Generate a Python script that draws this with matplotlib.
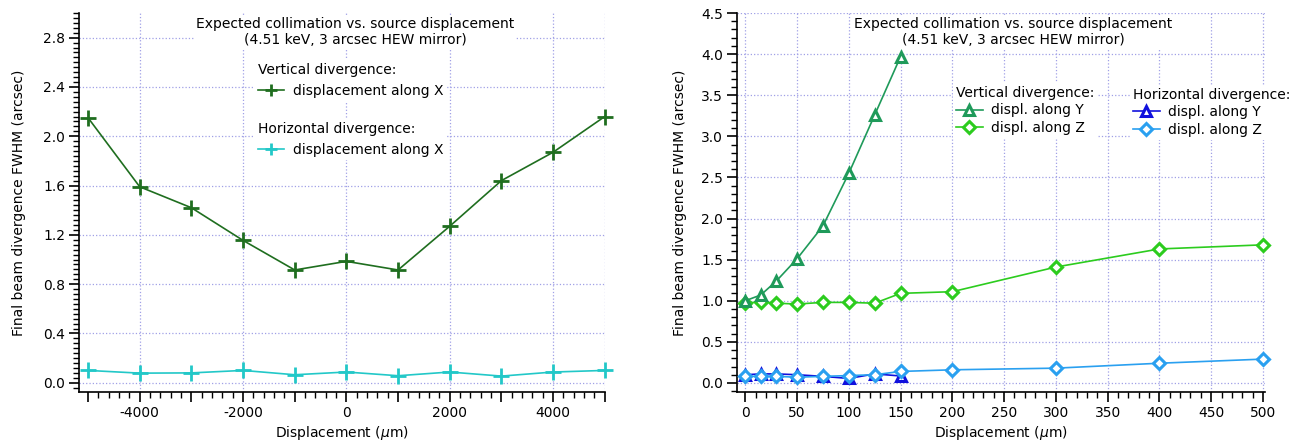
import numpy as np
import matplotlib
matplotlib.use('Agg')
import matplotlib.pyplot as plt
from matplotlib.ticker import MultipleLocator, FuncFormatter
from matplotlib.lines import Line2D

plt.rcParams['font.family'] = ['DejaVu Sans']
plt.rcParams['axes.unicode_minus'] = False

# left panel: displacement along X
xdispl = [-5000, -4000, -3000, -2000, -1000, 0, 1000, 2000, 3000, 4000, 5000]
vert_x = [2.15, 1.59, 1.42, 1.155, 0.915, 0.985, 0.915, 1.27, 1.64, 1.87, 2.16]
horiz_x = [0.10, 0.078, 0.08, 0.10, 0.065, 0.087, 0.057, 0.087, 0.054, 0.087, 0.10]

# right panel: displacement along Y and Z
ydispl = [0, 15, 30, 50, 75, 100, 125, 150]
zdispl = [0, 15, 30, 50, 75, 100, 125, 150, 200, 300, 400, 500]
vert_y = [1.0, 1.07, 1.24, 1.51, 1.91, 2.55, 3.26, 3.97]
vert_z = [0.97, 0.99, 0.97, 0.96, 0.98, 0.98, 0.97, 1.09, 1.11, 1.41, 1.63, 1.68]
horiz_y = [0.10, 0.11, 0.11, 0.10, 0.08, 0.055, 0.11, 0.085]
horiz_z = [0.08, 0.08, 0.08, 0.07, 0.08, 0.09, 0.10, 0.14, 0.16, 0.18, 0.24, 0.29]

title = 'Expected collimation vs. source displacement\n(4.51 keV, 3 arcsec HEW mirror)'
gridcol = '#a0a0e6'
c_dkgreen = '#1f6e1f'
c_cyan = '#22c8c8'
c_teal = '#1f9a5a'
c_green = '#2ccc1e'
c_blue = '#1010dd'
c_ltblue = '#2aa0f0'

fig = plt.figure(figsize=(12.9, 4.45), dpi=100)
ax1 = fig.add_axes([79/1290, 1-392/445, 526/1290, 379/445])
ax2 = fig.add_axes([737/1290, 1-392/445, 528/1290, 379/445])


def style(ax):
    for s in ['top', 'right']:
        ax.spines[s].set_visible(False)
    for s in ['left', 'bottom']:
        ax.spines[s].set_linewidth(1.2)
    ax.tick_params(which='major', direction='out', length=7, width=1.2, labelsize=10, pad=3)
    ax.tick_params(which='minor', direction='out', length=4, width=1.0)
    ax.set_xlabel('Displacement ($\\mu$m)', fontsize=10, labelpad=3)
    ax.set_ylabel('Final beam divergence FWHM (arcsec)', fontsize=10)


# ---- left panel
style(ax1)
ax1.set_xlim(-5175, 5005)
ax1.set_ylim(-0.075, 3.0)
for gx in [-4000, -2000, 0, 2000, 4000, 5000]:
    ax1.axvline(gx, color=gridcol, ls=':', lw=0.9, zorder=0)
for gy in np.arange(0, 2.81, 0.4):
    ax1.axhline(gy, color=gridcol, ls=':', lw=0.9, zorder=0)
ax1.xaxis.set_major_locator(MultipleLocator(1000))
ax1.xaxis.set_minor_locator(MultipleLocator(200))
ax1.xaxis.set_major_formatter(FuncFormatter(lambda v, p: '%d' % v if round(v) % 2000 == 0 else ''))
ax1.yaxis.set_major_locator(MultipleLocator(0.4))
ax1.yaxis.set_minor_locator(MultipleLocator(0.04))
ax1.yaxis.set_major_formatter(FuncFormatter(lambda v, p: '%.1f' % v))
ax1.yaxis.labelpad = 12

ax1.plot(xdispl, vert_x, color=c_dkgreen, lw=1.2, marker='+', ms=11, mew=2, clip_on=False)
ax1.plot(xdispl, horiz_x, color=c_cyan, lw=1.2, marker='+', ms=11, mew=2, clip_on=False)

ax1.text(0.525, 0.95, title, transform=ax1.transAxes, ha='center', va='center',
         fontsize=10, linespacing=1.15,
         bbox=dict(facecolor='white', edgecolor='none', pad=1))

h1 = Line2D([], [], color=c_dkgreen, lw=1.2, marker='+', ms=9, mew=2)
h2 = Line2D([], [], color=c_cyan, lw=1.2, marker='+', ms=9, mew=2)
lg = ax1.legend([h1], ['displacement along X'], title='Vertical divergence:',
                loc='upper left', bbox_to_anchor=(0.335, 0.875), alignment='left',
                fontsize=10, title_fontsize=10, frameon=True, framealpha=1,
                edgecolor='none', fancybox=False, borderpad=0.2, borderaxespad=0,
                handlelength=1.9, handletextpad=0.6)
ax1.add_artist(lg)
ax1.legend([h2], ['displacement along X'], title='Horizontal divergence:',
           loc='upper left', bbox_to_anchor=(0.335, 0.72), alignment='left',
           fontsize=10, title_fontsize=10, frameon=True, framealpha=1,
           edgecolor='none', fancybox=False, borderpad=0.2, borderaxespad=0,
           handlelength=1.9, handletextpad=0.6)

# ---- right panel
style(ax2)
ax2.set_xlim(-8, 502)
ax2.set_ylim(-0.11, 4.5)
for gx in np.arange(0, 501, 50):
    ax2.axvline(gx, color=gridcol, ls=':', lw=0.9, zorder=0)
for gy in np.arange(0, 4.51, 0.5):
    ax2.axhline(gy, color=gridcol, ls=':', lw=0.9, zorder=0)
ax2.xaxis.set_major_locator(MultipleLocator(50))
ax2.xaxis.set_minor_locator(MultipleLocator(10))
ax2.yaxis.set_major_locator(MultipleLocator(0.5))
ax2.yaxis.set_minor_locator(MultipleLocator(0.1))
ax2.yaxis.set_major_formatter(FuncFormatter(lambda v, p: '%.1f' % v))
ax2.yaxis.labelpad = 10

mk = dict(mfc='white', mew=2.2, ms=7.5, lw=1.2, clip_on=False)
ax2.plot(zdispl, horiz_z, color=c_ltblue, marker='D', zorder=3, **{**mk, 'ms': 6.5})
ax2.plot(ydispl, horiz_y, color=c_blue, marker='^', zorder=2, **mk)
ax2.plot(zdispl, vert_z, color=c_green, marker='D', zorder=3, **{**mk, 'ms': 6.5})
ax2.plot(ydispl, vert_y, color=c_teal, marker='^', zorder=4, **mk)

ax2.text(0.523, 0.95, title, transform=ax2.transAxes, ha='center', va='center',
         fontsize=10, linespacing=1.15,
         bbox=dict(facecolor='white', edgecolor='none', pad=1))

hv1 = Line2D([], [], color=c_teal, marker='^', **{**mk, 'ms': 7})
hv2 = Line2D([], [], color=c_green, marker='D', **{**mk, 'ms': 6})
hh1 = Line2D([], [], color=c_blue, marker='^', **{**mk, 'ms': 7})
hh2 = Line2D([], [], color=c_ltblue, marker='D', **{**mk, 'ms': 6})
lg2 = ax2.legend([hv1, hv2], ['displ. along Y', 'displ. along Z'], title='Vertical divergence:',
                 loc='upper left', bbox_to_anchor=(0.41, 0.815), alignment='left',
                 fontsize=10, title_fontsize=10, frameon=True, framealpha=1,
                 edgecolor='none', fancybox=False, borderpad=0.2, borderaxespad=0,
                 handlelength=1.9, handletextpad=0.6, labelspacing=0.25)
ax2.add_artist(lg2)
ax2.legend([hh1, hh2], ['displ. along Y', 'displ. along Z'], title='Horizontal divergence:',
           loc='upper left', bbox_to_anchor=(0.745, 0.81), alignment='left',
           fontsize=10, title_fontsize=10, frameon=True, framealpha=1,
           edgecolor='none', fancybox=False, borderpad=0.2, borderaxespad=0,
           handlelength=1.9, handletextpad=0.6, labelspacing=0.25)

fig.savefig('out.png', dpi=100)
